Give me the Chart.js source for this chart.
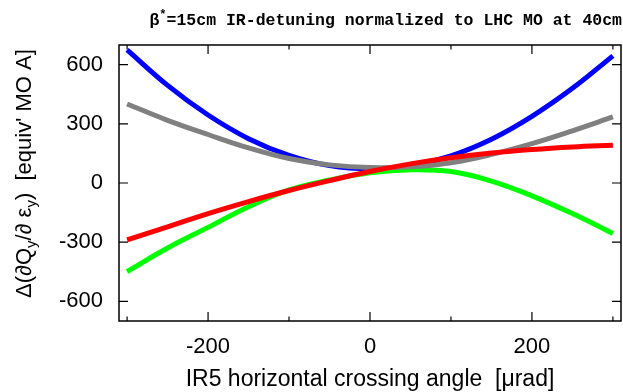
<!DOCTYPE html>
<html lang="en">
<head>
<meta charset="UTF-8">
<title>IR-detuning vs crossing angle</title>
<script src="https://cdn.jsdelivr.net/npm/chart.js"></script>
<style>
  html, body { margin: 0; padding: 0; background: #fff; }
  #wrap { width: 623px; height: 392px; }
</style>
</head>
<body>
<div id="wrap"><canvas id="detuningChart" width="623" height="392"></canvas></div>
<script>
// IR5 horizontal crossing angle [urad]
const angles = [-300, -250, -200, -150, -100, -50, 0, 50, 100, 150, 200, 250, 300];

// detuning, equivalent MO current [A]
const blueVals  = [675, 495, 345, 225, 140, 88, 72, 88, 138, 222, 338, 480, 645];
const grayVals  = [401, 318, 246, 178, 124, 92, 78, 82, 103, 145, 200, 265, 335];
const greenVals = [-449, -330, -225, -120, -35, 15, 52, 67, 58, 10, -65, -155, -256];
const redVals   = [-289, -222, -155, -94, -38, 12, 58, 97, 128, 152, 170, 183, 192];

const xTicks = [-200, 0, 200];
const xMinorTicks = [-300, -100, 100, 300];
const yTicks = [-600, -300, 0, 300, 600];

const sansFont = '"Liberation Sans", Arial, sans-serif';

function pts(vals) {
    return angles.map((a, i) => ({ x: a, y: vals[i] }));
}

function line(vals, color) {
    return {
        data: pts(vals),
        borderColor: color,
        borderWidth: 5,
        pointRadius: 0,
        tension: 0.4,
        fill: false,
        borderCapStyle: 'butt'
    };
}

// frame, inward ticks on all sides, title and axis labels
const framePlugin = {
    id: 'frame',
    afterDraw(chart) {
        const ctx = chart.ctx;
        const a = chart.chartArea;
        const xs = chart.scales.x;
        const ys = chart.scales.y;
        ctx.save();
        ctx.strokeStyle = '#000';
        ctx.lineWidth = 1.5;
        ctx.strokeRect(a.left, a.top, a.right - a.left, a.bottom - a.top);

        ctx.lineWidth = 1.2;
        ctx.beginPath();
        const tick = (v, len) => {
            const px = xs.getPixelForValue(v);
            ctx.moveTo(px, a.bottom); ctx.lineTo(px, a.bottom - len);
            ctx.moveTo(px, a.top); ctx.lineTo(px, a.top + len);
        };
        xTicks.forEach(v => tick(v, 9));
        xMinorTicks.forEach(v => tick(v, 4.5));
        yTicks.forEach(v => {
            const py = ys.getPixelForValue(v);
            ctx.moveTo(a.left, py); ctx.lineTo(a.left + 9, py);
            ctx.moveTo(a.right, py); ctx.lineTo(a.right - 9, py);
        });
        ctx.stroke();

        // title, right end flush with the plot frame
        ctx.fillStyle = '#000';
        ctx.textBaseline = 'alphabetic';
        const tFont = 'bold 16.5px "Liberation Mono", "DejaVu Sans Mono", monospace';
        const sFont = 'bold 12px "Liberation Mono", "DejaVu Sans Mono", monospace';
        const t1 = 'β', t2 = '*', t3 = '=15cm IR-detuning normalized to LHC MO at 40cm';
        ctx.font = tFont;
        const w1 = ctx.measureText(t1).width, w3 = ctx.measureText(t3).width;
        ctx.font = sFont;
        const w2 = ctx.measureText(t2).width;
        let tx = a.right + 1 - (w1 + w2 + w3);
        const ty = 25;
        ctx.font = tFont; ctx.fillText(t1, tx, ty); tx += w1;
        ctx.font = sFont; ctx.fillText(t2, tx, ty - 7); tx += w2;
        ctx.font = tFont; ctx.fillText(t3, tx, ty);

        // x axis label
        ctx.font = '23px ' + sansFont;
        ctx.textAlign = 'center';
        ctx.fillText('IR5 horizontal crossing angle  [μrad]', (a.left + a.right) / 2, 386);

        // y axis label with subscripts, rotated
        ctx.textAlign = 'left';
        ctx.translate(31, 298);
        ctx.rotate(-Math.PI / 2);
        const parts = [
            ['Δ(∂Q', false], ['y', true], ['/∂ ε', false], ['y', true], [")  [equiv' MO A]", false]
        ];
        let lx = 0;
        parts.forEach(([s, sub]) => {
            ctx.font = (sub ? '15px ' : '22px ') + sansFont;
            ctx.fillText(s, lx, sub ? 5 : 0);
            lx += ctx.measureText(s).width;
        });
        ctx.restore();
    }
};

const ctx = document.getElementById('detuningChart').getContext('2d');
new Chart(ctx, {
    type: 'line',
    data: {
        // first dataset is drawn on top
        datasets: [
            line(redVals, '#ff0000'),
            line(grayVals, '#808080'),
            line(greenVals, '#00ff00'),
            line(blueVals, '#0000ff')
        ]
    },
    options: {
        responsive: false,
        animation: false,
        devicePixelRatio: 1,
        layout: { padding: { left: 0, right: 2, top: 45, bottom: 0 } },
        plugins: { legend: { display: false }, tooltip: { enabled: false } },
        scales: {
            x: {
                type: 'linear',
                min: -310,
                max: 310,
                grid: { display: false, drawTicks: false },
                border: { display: false },
                afterBuildTicks: s => { s.ticks = xTicks.map(v => ({ value: v })); },
                afterFit: s => { s.height = 71; },
                ticks: {
                    padding: 13,
                    color: '#000',
                    maxRotation: 0,
                    font: { family: sansFont, size: 22 }
                }
            },
            y: {
                type: 'linear',
                min: -700,
                max: 700,
                grid: { display: false, drawTicks: false },
                border: { display: false },
                afterBuildTicks: s => { s.ticks = yTicks.map(v => ({ value: v })); },
                afterFit: s => { s.width = 119; },
                ticks: {
                    padding: 16,
                    color: '#000',
                    font: { family: sansFont, size: 22 }
                }
            }
        }
    },
    plugins: [framePlugin]
});
</script>
</body>
</html>
